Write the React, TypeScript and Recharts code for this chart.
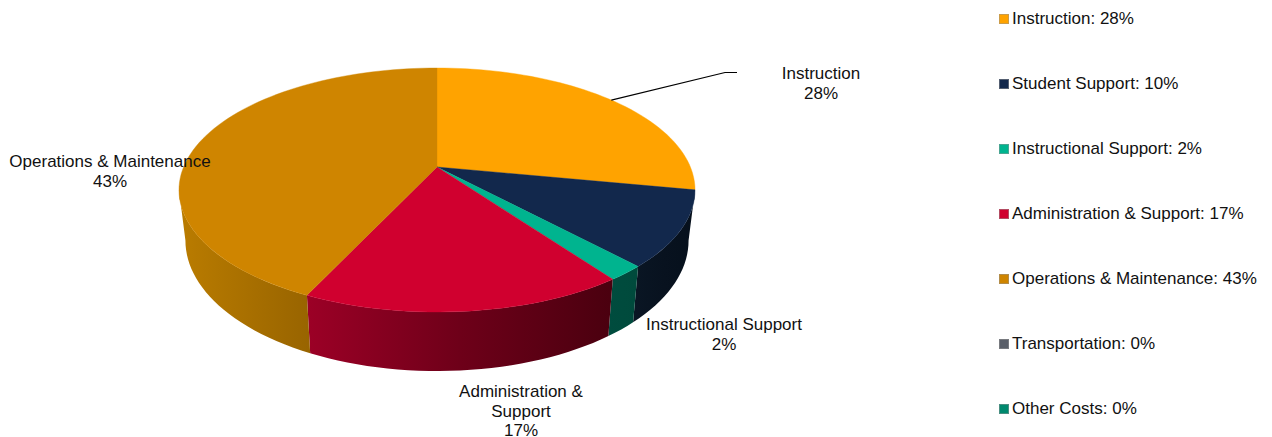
import React from "react";
import { PieChart, Pie, Cell, Legend } from "recharts";

const NAMES = [
  "Instruction",
  "Student Support",
  "Instructional Support",
  "Administration & Support",
  "Operations & Maintenance",
  "Transportation",
  "Other Costs",
];
const VALUES = [28, 10, 2, 17, 43, 0, 0];
const COLORS = ["#ffa300", "#12284c", "#00b48f", "#d0002f", "#cf8500", "#5a5f69", "#00896e"];
// left / middle / right colour of the rim for each slice
const SIDE_COLORS = [
  ["#b87600", "#b87600", "#b87600"],
  ["#0a1624", "#08121f", "#06101c"],
  ["#004c3e", "#004b3d", "#004a3c"],
  ["#9c0026", "#6e0019", "#4a000f"],
  ["#ba7c00", "#a97000", "#986400"],
  ["#3c4048", "#3c4048", "#3c4048"],
  ["#005c4a", "#005c4a", "#005c4a"],
];

const LABEL_LINES = [
  ["Instruction", "28%"],
  [],
  ["Instructional Support", "2%"],
  ["Administration &", "Support", "17%"],
  ["Operations & Maintenance", "43%"],
  [],
  [],
];
const LABEL_X = [821, 0, 724, 521, 110, 0, 0];
const LABEL_Y = [79, 0, 330, 397, 167, 0, 0];

const data = NAMES.map((name, i) => ({ name, value: VALUES[i] }));

const FONT = "'Liberation Sans', Arial, sans-serif";
const RY = 122; // half height of the top ellipse
const P = 0.1885; // perspective strength
const RIM_X = 0.975; // the lower rim is a bit narrower
const RIM_Y = 1.07;
const RIM_DROP = 50.5;

const RAD = Math.PI / 180;

// circle angle -> point on the tilted disc
const project = (cx: number, cy: number, r: number, deg: number) => {
  const u = Math.cos(deg * RAD);
  const v = -Math.sin(deg * RAD);
  const w = 1 - P * v;
  const dy = (RY * (v - P)) / w;
  return {
    x: cx + (r * u) / w,
    y: cy + RY * P + dy,
    rimX: cx + (RIM_X * r * u) / w,
    rimY: cy + RY * P + RIM_DROP + RIM_Y * dy,
  };
};

const sampleAngles = (from: number, to: number) => {
  const steps = Math.max(2, Math.ceil(Math.abs(to - from) / 2));
  const out: number[] = [];
  for (let i = 0; i <= steps; i++) out.push(from + ((to - from) * i) / steps);
  return out;
};

const FRONT_START = -Math.asin(P) / RAD;
const FRONT_END = -180 - FRONT_START;

const TiltedSlice = (props: any) => {
  const { cx, cy, outerRadius, startAngle, endAngle, fill, index } = props;
  if (Math.abs(endAngle - startAngle) < 0.01) return null;
  const pts = sampleAngles(startAngle, endAngle).map((a) => project(cx, cy, outerRadius, a));
  const top =
    `M${cx},${cy}` + pts.map((p) => `L${p.x.toFixed(2)},${p.y.toFixed(2)}`).join("") + "Z";

  // rim is only visible on the front half
  const frontFrom = Math.min(startAngle, FRONT_START);
  const frontTo = Math.max(endAngle, FRONT_END);
  let rim = null;
  if (frontFrom > frontTo) {
    const front = sampleAngles(frontFrom, frontTo).map((a) => project(cx, cy, outerRadius, a));
    const d =
      "M" +
      front.map((p) => `${p.x.toFixed(2)},${p.y.toFixed(2)}`).join("L") +
      "L" +
      [...front].reverse().map((p) => `${p.rimX.toFixed(2)},${p.rimY.toFixed(2)}`).join("L") +
      "Z";
    rim = <path d={d} fill={`url(#rim-${index})`} stroke="none" />;
  }
  return (
    <g>
      {rim}
      <path d={top} fill={fill} stroke={fill} strokeWidth={0.4} />
    </g>
  );
};

const SliceLabel = (props: any) => {
  const { index, cx, cy, outerRadius, midAngle } = props;
  const lines = LABEL_LINES[index];
  if (!lines || lines.length === 0) return null;
  const start = project(cx, cy, outerRadius, midAngle);
  return (
    <g>
      {index === 0 && (
        <polyline
          points={`${start.x},${start.y} 725,72.5 737,72.5`}
          fill="none"
          stroke="#000"
          strokeWidth={1.2}
        />
      )}
      <text x={LABEL_X[index]} y={LABEL_Y[index]} textAnchor="middle" fontFamily={FONT} fontSize={17} fill="#111">
        {lines.map((line, i) => (
          <tspan key={i} x={LABEL_X[index]} dy={i === 0 ? 0 : 19.5}>
            {line}
          </tspan>
        ))}
      </text>
    </g>
  );
};

const LegendList = () => (
  <div>
    {data.map((d, i) => (
      <div
        key={d.name}
        style={{
          position: "absolute",
          left: 0,
          top: i * 65,
          height: 20,
          whiteSpace: "nowrap",
          display: "flex",
          alignItems: "center",
          fontFamily: FONT,
          fontSize: 17,
          color: "#111",
        }}
      >
        <span
          style={{
            display: "inline-block",
            width: 8,
            height: 8,
            marginRight: 3,
            background: COLORS[i],
            border: "1px solid rgba(150,150,150,0.5)",
          }}
        />
        {d.name}: {d.value}%
      </div>
    ))}
  </div>
);

export default function App() {
  return (
    <div style={{ position: "absolute", left: 0, top: 0, width: 1272, height: 437 }}>
      <PieChart width={1272} height={437} margin={{ top: 0, right: 0, bottom: 0, left: 0 }}>
        <defs>
          {SIDE_COLORS.map((c, i) => (
            <linearGradient key={i} id={`rim-${i}`} x1="0" y1="0" x2="1" y2="0">
              <stop offset="0%" stopColor={c[0]} />
              <stop offset="50%" stopColor={c[1]} />
              <stop offset="100%" stopColor={c[2]} />
            </linearGradient>
          ))}
        </defs>
        <Pie
          data={data}
          dataKey="value"
          nameKey="name"
          cx={437}
          cy={167}
          outerRadius={253.4}
          startAngle={90}
          endAngle={-270}
          stroke="none"
          shape={TiltedSlice}
          label={SliceLabel}
          labelLine={false}
          isAnimationActive={false}
        >
          {data.map((d, i) => (
            <Cell key={d.name} fill={COLORS[i]} />
          ))}
        </Pie>
        <Legend
          content={LegendList}
          wrapperStyle={{ position: "absolute", left: 999, top: 9, width: 270, height: 420 }}
        />
      </PieChart>
    </div>
  );
}
